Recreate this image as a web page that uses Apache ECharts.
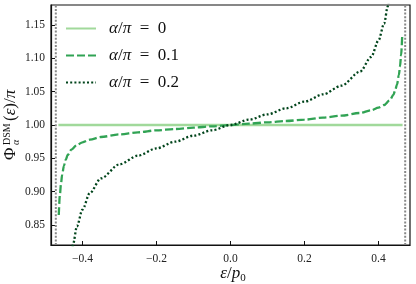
<!DOCTYPE html>
<html><head><meta charset="utf-8">
<script src="https://cdn.jsdelivr.net/npm/echarts@6/dist/echarts.min.js"></script>
<style>html,body{margin:0;padding:0;background:#fff}#c{width:416px;height:284px}</style>
</head><body><div id="c"></div>
<script>
// ---- data ----
const alphaLabels = ['0', '0.1', '0.2'];
const colors = ['#a1d99b', '#31a354', '#00441b'];

const eps0 = [-0.465, 0.465];
const phi0 = [1.0, 1.0];

const eps1 = [-0.464, -0.461, -0.458, -0.455, -0.45, -0.445, -0.44, -0.43, -0.415, -0.4, -0.38, -0.35, -0.3, -0.25, -0.2, -0.15, -0.1, -0.05,
  0, 0.05, 0.1, 0.15, 0.2, 0.25, 0.3, 0.35, 0.38, 0.4, 0.415, 0.43, 0.44, 0.445, 0.45, 0.455, 0.458, 0.461, 0.464];
const phi1 = [0.865, 0.895, 0.912, 0.925, 0.939, 0.948, 0.955, 0.963, 0.970, 0.974, 0.978, 0.982, 0.986, 0.989, 0.992, 0.994, 0.996, 0.998,
  1.0, 1.002, 1.004, 1.006, 1.008, 1.011, 1.014, 1.018, 1.022, 1.026, 1.030, 1.037, 1.045, 1.052, 1.061, 1.075, 1.088, 1.105, 1.135];

const eps2 = [-0.436, -0.43, -0.425, -0.415, -0.4, -0.38, -0.35, -0.3, -0.25, -0.2, -0.15, -0.1, -0.05,
  0, 0.05, 0.1, 0.15, 0.2, 0.25, 0.3, 0.35, 0.38, 0.4, 0.415, 0.425, 0.43, 0.436];
const phi2 = [0.78, 0.805, 0.822, 0.848, 0.873, 0.898, 0.92, 0.941, 0.954, 0.965, 0.975, 0.984, 0.992,
  1.0, 1.008, 1.016, 1.025, 1.035, 1.046, 1.059, 1.08, 1.102, 1.127, 1.152, 1.178, 1.195, 1.22];

const asymptotes = [-0.472, 0.472];
const xTicks = [-0.4, -0.2, 0.0, 0.2, 0.4];
const yTicks = [0.85, 0.90, 0.95, 1.00, 1.05, 1.10, 1.15];
const xRange = [-0.485, 0.485];
const yRange = [0.82, 1.18];

// ---- build ----
const FONT = 'Liberation Serif';
const zip = (a, b) => a.map((v, i) => [v, b[i]]);
const names = alphaLabels.map(a => 'α/π = ' + a);
const dashes = ['solid', [8, 3], [2, 2.2]];
const curves = [zip(eps0, phi0), zip(eps1, phi1), zip(eps2, phi2)];

const series = [];
asymptotes.forEach(x => {
  series.push({
    type: 'line', silent: true, symbol: 'none', z: 1,
    data: [[x, yRange[0]], [x, yRange[1]]],
    lineStyle: { color: '#888888', width: 2, type: [2, 1.6] }
  });
});
curves.forEach((d, i) => {
  series.push({
    name: names[i], type: 'line', data: d, symbol: 'none', smooth: 0.3, smoothMonotone: 'x',
    z: 3 + i, clip: true,
    lineStyle: { color: colors[i], width: 2.3, type: dashes[i], cap: 'butt' },
    itemStyle: { color: colors[i] }
  });
});

const minus = v => String(v).replace('-', '\u2212');

const chart = echarts.init(document.getElementById('c'), null, { renderer: 'canvas' });
chart.setOption({
  animation: false,
  backgroundColor: '#fff',
  grid: { left: 51, right: 6, top: 5, bottom: 39, show: true, borderColor: '#111', borderWidth: 1.2, backgroundColor: 'transparent' },
  legend: {
    data: names, left: 65, top: 20, orient: 'vertical', padding: 0,
    itemWidth: 30, itemHeight: 14, itemGap: 10,
    itemStyle: { opacity: 0 },
    formatter: n => {
      const v = n.split('= ')[1];
      return '{i|α}{r|/}{i|π}{r|\u2002=\u2002' + v + '}';
    },
    textStyle: {
      padding: [0, 0, 0, 8],
      rich: {
        i: { fontFamily: FONT, fontStyle: 'italic', fontSize: 17, color: '#111' },
        r: { fontFamily: FONT, fontSize: 17, color: '#111' }
      }
    }
  },
  xAxis: {
    type: 'value', min: xRange[0], max: xRange[1],
    axisLine: { show: true, onZero: false, lineStyle: { color: '#111', width: 1.2 } },
    axisTick: { show: true, inside: true, length: 4, customValues: xTicks, lineStyle: { color: '#111' } },
    axisLabel: { customValues: xTicks, fontFamily: FONT, fontSize: 11.5, color: '#222', margin: 8,
      formatter: v => minus(v.toFixed(1)) },
    splitLine: { show: false }
  },
  yAxis: {
    type: 'value', min: yRange[0], max: yRange[1],
    axisLine: { show: true, onZero: false, lineStyle: { color: '#111', width: 1.2 } },
    axisTick: { show: true, inside: true, length: 4, customValues: yTicks, lineStyle: { color: '#111' } },
    axisLabel: { customValues: yTicks, fontFamily: FONT, fontSize: 11.5, color: '#222', margin: 6,
      formatter: v => v.toFixed(2) },
    splitLine: { show: false }
  },
  graphic: [
    {
      type: 'group', x: 11, y: 160, rotation: Math.PI / 2,
      children: [
        { type: 'text', x: 0, y: 0, style: { text: 'Φ', fontFamily: FONT, fontSize: 17, fill: '#111', verticalAlign: 'middle', align: 'left' } },
        { type: 'text', x: 15, y: -4, style: { text: 'DSM', fontFamily: FONT, fontSize: 10, fill: '#111', verticalAlign: 'middle', align: 'left' } },
        { type: 'text', x: 15, y: 5, style: { text: 'α', fontFamily: FONT, fontStyle: 'italic', fontSize: 10, fill: '#111', verticalAlign: 'middle', align: 'left' } },
        { type: 'text', x: 39, y: 0, style: {
          text: '{r|(}{i|ε}{r|)/}{i|π}', verticalAlign: 'middle', align: 'left',
          rich: {
            r: { fontFamily: FONT, fontSize: 17, fill: '#111' },
            i: { fontFamily: FONT, fontStyle: 'italic', fontSize: 17, fill: '#111' }
          } } }
      ]
    },
    {
      type: 'text', x: 233, y: 274, style: {
        text: '{i|ε}{r|/}{i|p}{s|0}', align: 'center', verticalAlign: 'middle',
        rich: {
          r: { fontFamily: FONT, fontSize: 17, fill: '#111' },
          i: { fontFamily: FONT, fontStyle: 'italic', fontSize: 17, fill: '#111' },
          s: { fontFamily: FONT, fontSize: 11, fill: '#111', padding: [8, 0, 0, 0] }
        } }
    }
  ],
  series: series
});
</script></body></html>
